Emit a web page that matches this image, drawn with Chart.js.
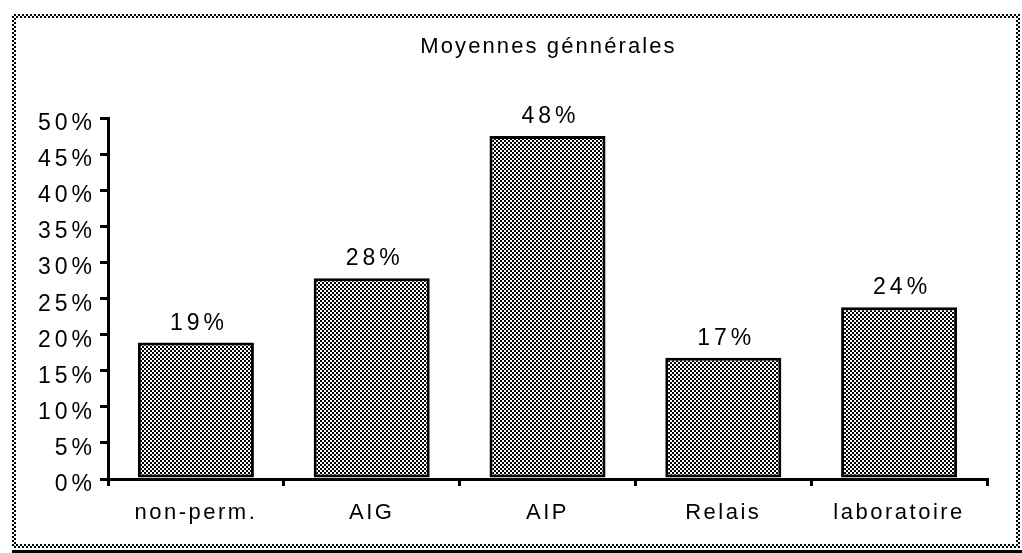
<!DOCTYPE html>
<html>
<head>
<meta charset="utf-8">
<script src="https://cdn.jsdelivr.net/npm/chart.js@4"></script>
<style>
  html, body { margin: 0; padding: 0; background: #fff; }
  #wrap { width: 1022px; height: 553px; position: relative; }
</style>
</head>
<body>
<div id="wrap"><canvas id="Moyennes-Graph" width="1022" height="553"></canvas></div>
<script>
const chartTitle = "Moyennes génnérales";
const categories = ["non-perm.", "AIG", "AIP", "Relais", "laboratoire"];
const moyennes = [18.9, 27.8, 47.5, 16.8, 23.8];
const yMax = 50;
const yStep = 5;

const fontFamily = "'Liberation Sans', Arial, sans-serif";
const numSpacing = 4; // the % labels are set wide

// checkerboard with 2px cells, used for bars and the frame
function checker() {
    const c = document.createElement("canvas");
    c.width = 4; c.height = 4;
    const cx = c.getContext("2d");
    cx.fillStyle = "#fff";
    cx.fillRect(0, 0, 4, 4);
    cx.fillStyle = "#000";
    cx.fillRect(0, 0, 2, 2);
    cx.fillRect(2, 2, 2, 2);
    return cx.createPattern(c, "repeat");
}

const graph = document.getElementById("Moyennes-Graph").getContext("2d");
const pattern = checker();

const framePlugin = {
    id: "frame",
    beforeDraw(chart) {
        const ctx = chart.ctx;
        ctx.save();
        ctx.fillStyle = "#fff";
        ctx.fillRect(0, 0, chart.width, chart.height);
        ctx.fillStyle = pattern;
        ctx.fillRect(12, 14, 1008, 4);   // top
        ctx.fillRect(12, 14, 4, 534);    // left
        ctx.fillRect(1016, 14, 4, 534);  // right
        ctx.fillRect(12, 544, 1008, 4);  // bottom
        ctx.fillStyle = "#000";
        ctx.fillRect(12, 550, 1010, 3);
        ctx.restore();
        // category labels are drawn by chart.js with this spacing
        ctx.letterSpacing = "2.5px";
    },
    afterDatasetsDraw(chart) {
        const ctx = chart.ctx;
        ctx.save();
        ctx.fillStyle = "#000";
        ctx.font = "23px " + fontFamily;
        ctx.letterSpacing = numSpacing + "px";
        ctx.textBaseline = "alphabetic";

        // y tick labels, sitting a little under their tick
        const y = chart.scales.y;
        ctx.textAlign = "right";
        y.ticks.forEach(t => {
            ctx.fillText(t.value + "%", 92 + numSpacing, y.getPixelForValue(t.value) + 12);
        });

        // value labels above the bars
        ctx.textAlign = "center";
        chart.getDatasetMeta(0).data.forEach((bar, i) => {
            ctx.fillText(Math.round(moyennes[i]) + "%", bar.x + 1 + numSpacing / 2, bar.y - 13);
        });

        ctx.font = "22px " + fontFamily;
        ctx.letterSpacing = "2.1px";
        const a = chart.chartArea;
        ctx.fillText(chartTitle, (a.left + a.right) / 2 + 1, 53);
        ctx.restore();
    }
};

const chart = new Chart(graph, {
    type: "bar",
    data: {
        labels: categories,
        datasets: [{
            data: moyennes,
            backgroundColor: pattern,
            borderColor: "#000",
            borderWidth: 3,
            borderSkipped: false,
            barPercentage: 0.66,
            categoryPercentage: 1.0
        }]
    },
    options: {
        animation: false,
        responsive: false,
        layout: { padding: { top: 118, right: 35, left: 0, bottom: 0 } },
        plugins: {
            legend: { display: false },
            tooltip: { enabled: false },
            title: { display: false }
        },
        scales: {
            x: {
                afterFit: s => { s.height = 74; },
                border: { color: "#000", width: 3 },
                grid: { drawOnChartArea: false, color: "#000", lineWidth: 3, tickLength: 7, offset: true },
                ticks: { color: "#000", font: { family: fontFamily, size: 22 }, padding: 14, maxRotation: 0 }
            },
            y: {
                min: 0,
                max: yMax,
                afterFit: s => { s.width = 108; },
                border: { color: "#000", width: 3 },
                grid: { drawOnChartArea: false, color: "#000", lineWidth: 3, tickLength: 8 },
                ticks: {
                    stepSize: yStep,
                    color: "rgba(0,0,0,0)",
                    padding: 6,
                    font: { family: fontFamily, size: 22 },
                    callback: v => v + "%"
                }
            }
        }
    },
    plugins: [framePlugin]
});
</script>
</body>
</html>
